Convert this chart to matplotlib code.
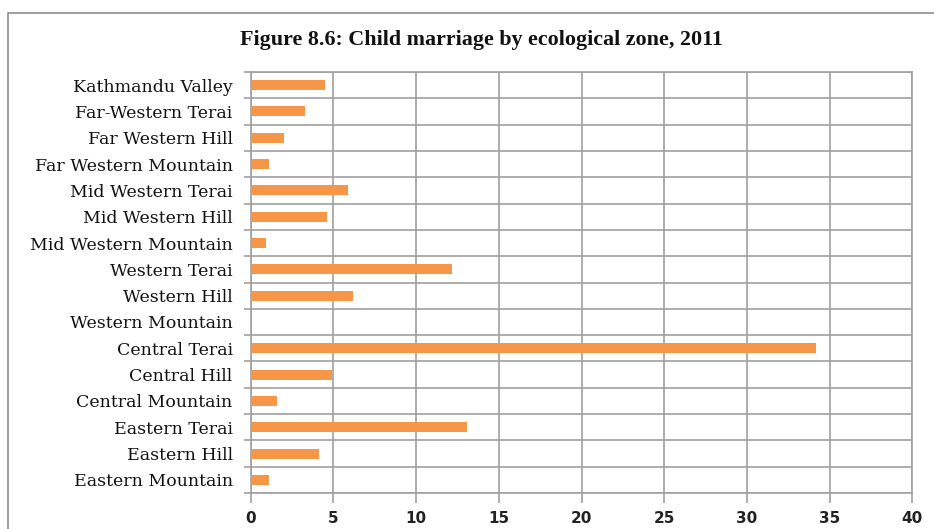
import numpy as np
import matplotlib.pyplot as plt
from matplotlib.patches import Rectangle

zones = ["Kathmandu Valley", "Far-Western Terai", "Far Western Hill",
         "Far Western Mountain", "Mid Western Terai", "Mid Western Hill",
         "Mid Western Mountain", "Western Terai", "Western Hill",
         "Western Mountain", "Central Terai", "Central Hill",
         "Central Mountain", "Eastern Terai", "Eastern Hill",
         "Eastern Mountain"]
values = [4.5, 3.3, 2.0, 1.1, 5.9, 4.6, 0.9, 12.2, 6.2, 0.0, 34.2, 4.9,
          1.6, 13.1, 4.1, 1.1]
xticks = [0, 5, 10, 15, 20, 25, 30, 35, 40]

W, H = 934, 529
fig = plt.figure(figsize=(W / 100, H / 100), dpi=100)
ax = fig.add_axes([250.7 / W, 1 - 493 / H, (912.3 - 250.7) / W, (493 - 72) / H])

grid_c = "#A0A0A0"
n = len(zones)
ypos = np.arange(n)[::-1]
ax.barh(ypos, values, height=0.38, color="#F79646", zorder=3)

ax.set_xlim(0, 40)
ax.set_ylim(-0.5, n - 0.5)
ax.set_xticks(xticks)
ax.set_xticklabels([str(t) for t in xticks], fontsize=11, fontweight="bold",
                   family="DejaVu Sans", color="#222222")
ax.set_yticks(ypos)
ax.set_yticklabels(zones, fontsize=12.5, family="DejaVu Serif", color="#111111")
ax.set_yticks(np.arange(-0.5, n, 1.0), minor=True)

ax.tick_params(axis="y", which="major", length=0, pad=13)
ax.tick_params(axis="y", which="minor", length=5, color=grid_c, width=1.2)
ax.tick_params(axis="x", which="major", length=7, color=grid_c, width=1.2, pad=6)

ax.grid(axis="x", which="major", color=grid_c, linewidth=1.2, zorder=0)
ax.grid(axis="y", which="minor", color=grid_c, linewidth=1.2, zorder=0)
for s in ax.spines.values():
    s.set_color(grid_c)
    s.set_linewidth(1.2)

fig.text(481 / W, 1 - 40 / H, "Figure 8.6: Child marriage by ecological zone, 2011",
         ha="center", va="center", fontsize=15.8, fontweight="bold",
         family="Liberation Serif", color="#111111")

# chart area border
fig.patches.append(Rectangle((8 / W, -0.1), 1.2, 1 - 13 / H + 0.1,
                             transform=fig.transFigure, fill=False,
                             edgecolor="#8C8C8C", linewidth=1.2))

fig.savefig("out.png", dpi=100)
